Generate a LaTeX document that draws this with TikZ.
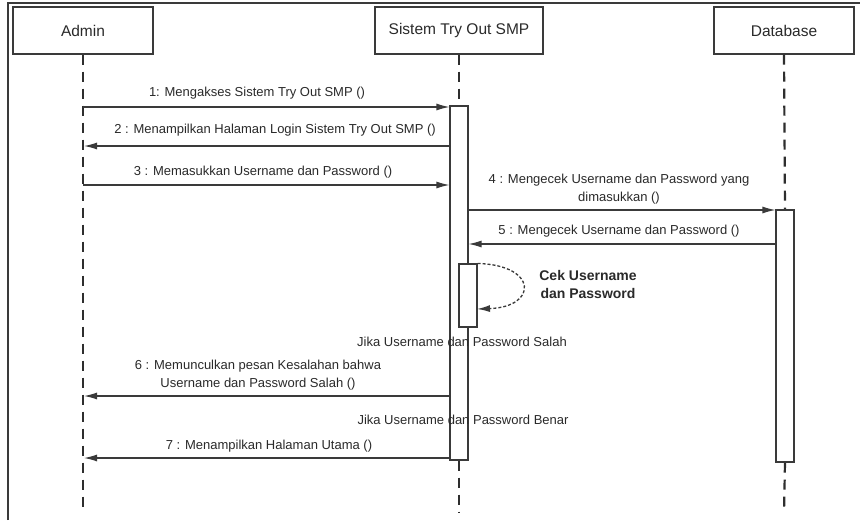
\documentclass[tikz,border=0pt]{standalone}
\usepackage{fontspec}
\setmainfont{Liberation Sans}
\usetikzlibrary{arrows.meta}
\definecolor{ln}{HTML}{3A3A3A}
\definecolor{lf}{HTML}{2E2E2E}
\definecolor{tx}{HTML}{2A2A2A}
\begin{document}
\begin{tikzpicture}[x=1pt,y=-1pt,
  hdr/.style={draw=ln,line width=1.2pt,fill=white,minimum width=140pt,minimum height=47pt,inner sep=0pt,font=\fontsize{15.5}{18}\selectfont,text=tx},
  act/.style={draw=ln,line width=1.1pt,fill=white,minimum width=18pt,inner sep=0pt},
  life/.style={draw=lf,line width=2.2pt,dash pattern=on 10pt off 7pt},
  tip/.style={-{Latex[length=13pt,width=7pt]}},
  msg/.style={draw=ln,line width=1.2pt,tip},
  lbl/.style={font=\fontsize{13}{17.5}\selectfont,text=tx,inner sep=0pt,align=center},
  bold/.style={font=\fontsize{14}{18}\selectfont\bfseries,text=tx,inner sep=0pt,align=center}]
\useasboundingbox (0,0) rectangle (860,520);
\fill[white] (0,0) rectangle (860,520);
% frame
\draw[ln,line width=1.5pt] (8,520) -- (8,3) -- (862,3);
% headers
\node[hdr] (admin) at (83,30.5) {Admin};
\node[hdr,minimum width=168pt] (sys) at (459,30.5) {Sistem Try Out SMP};
\node[hdr] (db) at (784,30.5) {Database};
% lifeline ends
\coordinate (adminEnd) at (83,513);
\coordinate (sysEnd) at (459,513);
\coordinate (dbEnd) at (784,513);
% activations
\node[act,minimum height=354pt] (sa) at (459,283) {};
\node[act,minimum height=252pt] (da) at (785,336) {};
\node[act,minimum height=63pt] (sn) at (468,295.5) {};
% lifelines
\draw[life] (admin.south) -- (adminEnd);
\draw[life] (sys.south) -- (sa.north);
\draw[life] (sa.south) -- (sysEnd);
\draw[life] (db.south) -- (da.north);
\draw[life] (da.south) -- (dbEnd);
% redraw activations on top
\node[act,minimum height=354pt] at (459,283) {};
\node[act,minimum height=252pt] at (785,336) {};
\node[act,minimum height=63pt] at (468,295.5) {};
% message 1
\coordinate (m1a) at (83,107);
\coordinate (m1b) at (sa.west |- m1a);
\draw[msg] (m1a) -- (m1b);
\node[lbl] (l1) at (257,93) {1: Mengakses Sistem Try Out SMP ()};
% message 2
\coordinate (m2a) at (sa.west |- 0,146);
\coordinate (m2b) at (84,146);
\draw[msg] (m2a) -- (m2b);
\node[lbl] (l2) at (275,130) {2 : Menampilkan Halaman Login Sistem Try Out SMP ()};
% message 3
\coordinate (m3a) at (83,185);
\coordinate (m3b) at (sa.west |- m3a);
\draw[msg] (m3a) -- (m3b);
\node[lbl] (l3) at (263,172) {3 : Memasukkan Username dan Password ()};
% message 4
\coordinate (m4a) at (sa.east |- 0,210);
\coordinate (m4b) at (da.west |- 0,210);
\draw[msg] (m4a) -- (m4b);
\node[lbl] (l4) at (619,189) {4 : Mengecek Username dan Password yang\\dimasukkan ()};
% message 5
\coordinate (m5a) at (da.west |- 0,244);
\coordinate (m5b) at (sa.east |- 0,244);
\draw[msg] (m5a) -- (m5b);
\node[lbl] (l5) at (619,231) {5 : Mengecek Username dan Password ()};
% self call
\coordinate (s1) at (sn.north east);
\coordinate (s2) at (477,309);
\draw[ln,line width=1.3pt,dash pattern=on 3pt off 2pt,tip]
  (s1) .. controls (538,265) and (538,307) .. (s2);
\node[bold] (cek) at (588,284) {Cek Username\\dan Password};
% guards
\node[lbl] (g1) at (462,342) {Jika Username dan Password Salah};
\node[lbl] (g2) at (463,420) {Jika Username dan Password Benar};
% message 6
\coordinate (m6a) at (sa.west |- 0,396);
\coordinate (m6b) at (84,396);
\draw[msg] (m6a) -- (m6b);
\node[lbl] (l6) at (258,375) {6 : Memunculkan pesan Kesalahan bahwa\\Username dan Password Salah ()};
% message 7
\coordinate (m7a) at (sa.west |- 0,458);
\coordinate (m7b) at (84,458);
\draw[msg] (m7a) -- (m7b);
\node[lbl] (l7) at (269,446) {7 : Menampilkan Halaman Utama ()};
\end{tikzpicture}
\end{document}
